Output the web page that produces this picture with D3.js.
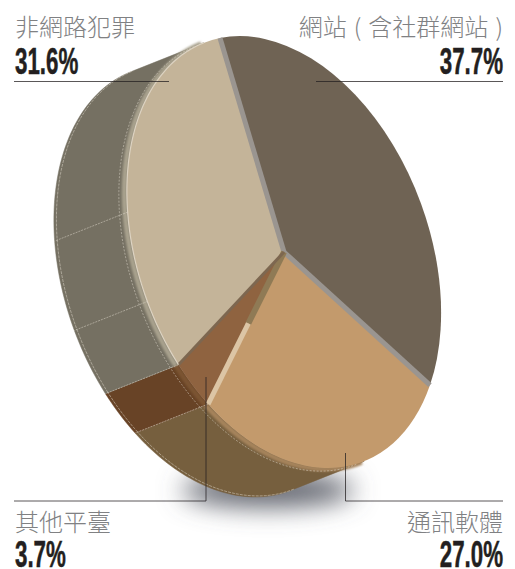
<!DOCTYPE html>
<html>
<head>
<meta charset="utf-8">
<script src="https://cdn.jsdelivr.net/npm/d3@7"></script>
<style>
    html, body { margin: 0; background: #fff; }
    svg { display: block; }
    .name { font-family: "Noto Sans CJK TC"; font-weight: 300; font-size: 24px; word-spacing: 1.75px; fill: #808183; }
    .pct { font-family: "Liberation Sans"; font-weight: 700; font-size: 36px; fill: #231f20; stroke: #231f20; stroke-width: 0.5px; }
</style>
</head>
<body>
<div id="chart"></div>
<script>
// Slices clockwise from the top of the disc
const labels = ["網站 ( 含社群網站 )", "通訊軟體", "其他平臺", "非網路犯罪"];
const shares = [37.7, 27.0, 3.7, 31.6];
const topColors = ["#6f6354", "#c39a6c", "#8f6340", "#c4b499"];
const wallColors = ["#6f6354", "#765f3e", "#684326", "#757062"];
const rimColors = ["#6f6354", "#a5835c", "#7c5433", "#a8a18d"];
const seamFractions = [0.16, 0.37];

const width = 515, height = 569;

// The disc is a unit circle pushed through this tilt, then extruded along depth
const center = [284, 252];
const axisU = [-64, -214];
const axisV = [143.5, -28.9];
const depth = [-73, 29];

const svg = d3.select("#chart").append("svg")
    .attr("width", width)
    .attr("height", height);

const defs = svg.append("defs");
defs.append("filter").attr("id", "shadowBlur")
    .attr("x", "-40%").attr("y", "-150%").attr("width", "180%").attr("height", "400%")
    .append("feGaussianBlur").attr("stdDeviation", 13);
defs.append("filter").attr("id", "rimBlur")
    .append("feGaussianBlur").attr("stdDeviation", 0.9);

const pie = d3.pie().sort(null).value(d => d);
const slices = pie(shares);

// Point on the disc at angle a, radius r, pushed k of the way along depth
function point(a, r = 1, k = 0) {
    return [
        center[0] + r * (axisU[0] * Math.cos(a) + axisV[0] * Math.sin(a)) + k * depth[0],
        center[1] + r * (axisU[1] * Math.cos(a) + axisV[1] * Math.sin(a)) + k * depth[1]
    ];
}

function arcPoints(a0, a1, k = 0) {
    const n = Math.max(2, Math.ceil((a1 - a0) * 40));
    return d3.range(n + 1).map(i => point(a0 + (a1 - a0) * i / n, 1, k));
}

const cross = (p, q) => p[0] * q[1] - p[1] * q[0];

// The wall is only seen between the two angles where the rim runs parallel to depth
const wallStart = Math.atan2(cross(axisV, depth), cross(axisU, depth));
const wallEnd = wallStart + Math.PI;

const visible = slices
    .map((d, i) => ({
        index: i,
        a0: Math.max(d.startAngle, wallStart),
        a1: Math.min(d.endAngle, wallEnd)
    }))
    .filter(d => d.a1 > d.a0);

const line = d3.line();

// Shadow under the disc
const shadowBox = { cx: 268, cy: 490, rx: 86, ry: 17 };
svg.append("ellipse")
    .attr("cx", shadowBox.cx).attr("cy", shadowBox.cy)
    .attr("rx", shadowBox.rx).attr("ry", shadowBox.ry)
    .attr("fill", "#5f626c")
    .attr("filter", "url(#shadowBlur)");

// Side walls
const walls = svg.append("g");
walls.selectAll("path.wall")
    .data(visible)
    .join("path")
    .attr("class", "wall")
    .attr("d", d => line(arcPoints(d.a0, d.a1, 0).concat(arcPoints(d.a0, d.a1, 1).reverse())) + "Z")
    .attr("fill", d => wallColors[d.index])
    .attr("stroke", d => wallColors[d.index])
    .attr("stroke-width", 0.5);

walls.selectAll("path.rim")
    .data(visible)
    .join("path")
    .attr("class", "rim")
    .attr("d", d => line(arcPoints(d.a0, d.a1, 0.035)))
    .attr("fill", "none")
    .attr("stroke", d => rimColors[d.index])
    .attr("stroke-width", 5)
    .attr("filter", "url(#rimBlur)");

// Dashed seams running along the wall
const seams = svg.append("g")
    .attr("fill", "none")
    .attr("stroke", "#e6e0d2")
    .attr("stroke-opacity", 0.8)
    .attr("stroke-width", 0.6);

visible.forEach(d => {
    seams.append("path")
        .attr("d", line(arcPoints(d.a0, d.a1, 0.11)))
        .attr("stroke-dasharray", "2 1.5");
    seams.append("path")
        .attr("d", line(arcPoints(d.a0, d.a1, 0.965)))
        .attr("stroke-dasharray", "3 1");
});

// Cross seams at slice boundaries and along the big wall
const bigWall = slices[3];
const seamAngles = [slices[1].endAngle, slices[2].endAngle]
    .concat(seamFractions.map(f => bigWall.startAngle + f * (bigWall.endAngle - bigWall.startAngle)));
seams.selectAll("path.cross")
    .data(seamAngles)
    .join("path")
    .attr("class", "cross")
    .attr("d", a => line([point(a, 1, 0), point(a, 1, 1)]))
    .attr("stroke-dasharray", "2 1");

// Top faces, a unit d3.arc under the tilt matrix
const arc = d3.arc().innerRadius(0).outerRadius(1);
svg.append("g")
    .attr("transform", `matrix(${axisV[0]},${axisV[1]},${-axisU[0]},${-axisU[1]},${center[0]},${center[1]})`)
    .selectAll("path")
    .data(slices)
    .join("path")
    .attr("d", arc)
    .attr("fill", (d, i) => topColors[i]);

// Bevel highlights on the face edges
const edges = svg.append("g").attr("fill", "none").attr("stroke-linecap", "butt");
const spokes = [
    { angle: slices[0].startAngle, r0: 0, r1: 1, color: "#9a9590", w: 5 },
    { angle: slices[0].endAngle, r0: 0, r1: 1, color: "#9a9590", w: 5 },
    { angle: slices[1].endAngle, r0: 0, r1: 0.47, color: "#8f7a55", w: 6 },
    { angle: slices[1].endAngle, r0: 0.47, r1: 1, color: "#dcc5a5", w: 5 },
    { angle: slices[2].endAngle, r0: 0, r1: 1, color: "#7d6750", w: 3 }
];
edges.selectAll("path.spoke")
    .data(spokes)
    .join("path")
    .attr("class", "spoke")
    .attr("d", d => line([point(d.angle, d.r0), point(d.angle, d.r1)]))
    .attr("stroke", d => d.color)
    .attr("stroke-width", d => d.w);

// Light lip where the beige face meets its wall
edges.append("path")
    .attr("d", line(arcPoints(bigWall.startAngle, wallEnd)))
    .attr("stroke", "#ddd3c2")
    .attr("stroke-width", 1.2);

// Leader lines and labels
const leaders = [
    [[316, 81.5], [503, 81.5]],
    [[345.5, 453], [345.5, 501], [503, 501]],
    [[206, 377], [206, 501], [14, 501]],
    [[169, 81.5], [14, 81.5]]
];
const nameSpots = [
    { x: 503, y: 36, anchor: "end" },
    { x: 503, y: 531, anchor: "end" },
    { x: 15, y: 531, anchor: "start" },
    { x: 15, y: 36, anchor: "start" }
];
const pctSpots = [
    { x: 503, y: 74, anchor: "end" },
    { x: 503, y: 567, anchor: "end" },
    { x: 15, y: 567, anchor: "start" },
    { x: 15, y: 74, anchor: "start" }
];
const pctSqueeze = 0.62; // no condensed face installed, so squeeze the bold one

svg.append("g")
    .selectAll("path")
    .data(leaders)
    .join("path")
    .attr("d", d => line(d))
    .attr("fill", "none")
    .attr("stroke", "#231f20")
    .attr("stroke-opacity", 0.75)
    .attr("stroke-width", 1);

svg.append("g")
    .selectAll("text")
    .data(labels)
    .join("text")
    .attr("class", "name")
    .attr("x", (d, i) => nameSpots[i].x)
    .attr("y", (d, i) => nameSpots[i].y)
    .attr("text-anchor", (d, i) => nameSpots[i].anchor)
    .text(d => d);

svg.append("g")
    .selectAll("text")
    .data(shares)
    .join("text")
    .attr("class", "pct")
    .attr("transform", (d, i) => `translate(${pctSpots[i].x},${pctSpots[i].y}) scale(${pctSqueeze},1)`)
    .attr("text-anchor", (d, i) => pctSpots[i].anchor)
    .text(d => d.toFixed(1) + "%");
</script>
</body>
</html>
